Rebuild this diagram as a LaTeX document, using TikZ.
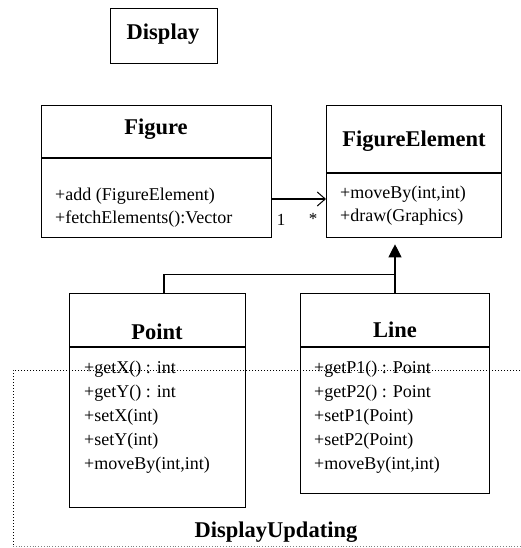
\documentclass[tikz,border=0pt]{standalone}
\usepackage{fontspec}
\setmainfont{Liberation Serif}
\usetikzlibrary{arrows.meta,calc}
\begin{document}
\begin{tikzpicture}[x=1pt,y=-1pt,
  classbox/.style={draw,line width=1.3pt,rectangle,anchor=north west,inner sep=0pt},
  ctitle/.style={font=\fontsize{22.5}{26}\selectfont\bfseries,inner sep=0pt,anchor=base},
  cmeth/.style={font=\fontsize{18}{22}\selectfont,inner sep=0pt,anchor=base west},
  link/.style={line width=1.1pt}]
\useasboundingbox (0,0) rectangle (520,548);
% package frame of DisplayUpdating
\draw[dotted,line width=1pt] (520,370) -- (13,370) -- (13,546);
\draw[dotted,line width=0.8pt,gray] (13,546) -- (520,546);
\node[ctitle] (pkg) at (276,537) {DisplayUpdating};

% Display class
\node[classbox,minimum width=107pt,minimum height=55pt] (disp) at (110,8) {};
\node[ctitle] (dispt) at (163,40) {Display};

% Figure class
\node[classbox,minimum width=230pt,minimum height=132pt] (fig) at (41,105) {};
\draw[link] (41,158) -- (271,158);
\node[ctitle] (figt) at (156,135) {Figure};
\node[cmeth] (fm1) at (55,200) {+add (FigureElement)};
\node[cmeth] (fm2) at (55,223) {+fetchElements():Vector};

% FigureElement class
\node[classbox,minimum width=175pt,minimum height=132pt] (fe) at (326,105) {};
\draw[link] (326,173) -- (501,173);
\node[ctitle] (fet) at (414,147) {FigureElement};
\node[cmeth] (fe1) at (340,198) {+moveBy(int,int)};
\node[cmeth] (fe2) at (340,221) {+draw(Graphics)};

% Point class
\node[classbox,minimum width=176pt,minimum height=214pt] (pt) at (69,293) {};
\draw[link] (69,347) -- (245,347);
\node[ctitle] (ptt) at (157,339) {Point};
\node[cmeth] (p1) at (84,373) {+getX() : int};
\node[cmeth] (p2) at (84,397) {+getY() : int};
\node[cmeth] (p3) at (84,421) {+setX(int)};
\node[cmeth] (p4) at (84,445) {+setY(int)};
\node[cmeth] (p5) at (84,469) {+moveBy(int,int)};

% Line class
\node[classbox,minimum width=189pt,minimum height=200pt] (ln) at (300,293) {};
\draw[link] (300,347) -- (489,347);
\node[ctitle] (lnt) at (395,337) {Line};
\node[cmeth] (l1) at (314,373) {+getP1() : Point};
\node[cmeth] (l2) at (314,397) {+getP2() : Point};
\node[cmeth] (l3) at (314,421) {+setP1(Point)};
\node[cmeth] (l4) at (314,445) {+setP2(Point)};
\node[cmeth] (l5) at (314,469) {+moveBy(int,int)};

% association Figure -> FigureElement
\coordinate (as) at ($(fig.north east)+(0,94)$);
\draw[link,-{Straight Barb[length=8pt,width=14pt,line width=1pt]}] (as) -- (as -| fe.west);
\node[font=\fontsize{17}{20}\selectfont,inner sep=0pt] (m1) at (281,220) {1};
\node[font=\fontsize{17}{20}\selectfont,inner sep=0pt] (m2) at (313,219) {*};

% generalisation Point, Line -> FigureElement
\coordinate (tip) at ($(fe.south west)+(69,6)$);
\coordinate (jn) at ($(tip)+(0,30)$);
\draw[link] (ln.north -| tip) -- (jn);
\draw[link] (pt.north -| 164,0) |- (jn);
\draw[link,-{Triangle[length=13pt,width=13pt]}] (jn) -- (tip);
\end{tikzpicture}
\end{document}
